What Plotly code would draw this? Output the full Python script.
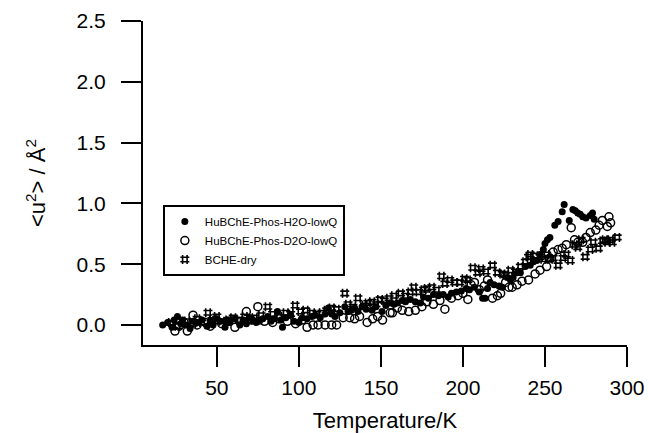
import plotly.graph_objects as go

# HuBChE-Phos-H2O-lowQ (filled circles)
h2o_temp = [17, 20, 22.7, 24, 26, 28, 29, 31, 33.7, 36, 38, 41, 44, 46, 47.7, 50, 52, 55, 56, 58,
            61, 64, 66, 68, 70, 72, 74, 76, 78, 81, 83, 85, 87, 89, 90, 92, 95, 97, 100, 102,
            105, 108, 110, 113, 116, 118, 120, 122, 125, 128, 130, 132, 134, 136, 138.5, 141, 144.6, 147, 150.7, 153,
            155.6, 158, 160, 163, 165, 168, 171, 174, 176, 179, 182, 185, 188, 191, 193, 196, 199, 202, 204, 207,
            210, 212, 213.5, 215, 216.6, 219, 222, 224, 227, 229, 230.6, 233, 235, 238, 241, 243, 245, 247, 249, 250,
            251.5, 253, 256, 258, 260.5, 261.7, 264.8, 267, 268.5, 270, 271.5, 273, 275, 277.6, 279, 280]
h2o_u2 = [0.00, 0.02, -0.02, 0.04, 0.07, 0.01, 0.04, 0.00, -0.03, 0.03, 0.02, 0.04, -0.01, 0.03, 0.00, 0.05, 0.03, -0.02, 0.04, 0.02,
          0.05, 0.00, 0.04, 0.01, 0.06, 0.04, 0.02, 0.03, 0.05, 0.07, 0.03, 0.05, 0.11, 0.04, -0.02, 0.06, 0.08, 0.03, 0.02, 0.06,
          0.05, 0.07, 0.08, 0.06, 0.09, 0.14, 0.09, 0.07, 0.10, 0.15, 0.11, 0.12, 0.14, 0.11, 0.15, 0.13, 0.12, 0.15, 0.11, 0.16,
          0.18, 0.17, 0.18, 0.20, 0.19, 0.21, 0.19, 0.18, 0.23, 0.22, 0.25, 0.24, 0.25, 0.23, 0.26, 0.27, 0.28, 0.30, 0.29, 0.31,
          0.27, 0.22, 0.22, 0.30, 0.35, 0.33, 0.32, 0.31, 0.39, 0.37, 0.39, 0.43, 0.43, 0.48, 0.49, 0.52, 0.53, 0.58, 0.62, 0.67,
          0.70, 0.72, 0.82, 0.85, 0.93, 0.99, 0.86, 0.95, 0.94, 0.92, 0.91, 0.89, 0.88, 0.90, 0.92, 0.87]

# HuBChE-Phos-D2O-lowQ (open circles)
d2o_temp = [24.5, 27, 30, 32, 35.5, 38, 43, 46, 49, 53, 57, 61, 64, 68, 71, 75, 79, 84, 88, 93,
            98, 102, 105, 108.7, 111.7, 116, 120, 123, 127, 131, 134, 137, 141.6, 145, 148, 151, 155.6, 157, 160, 163,
            167, 171, 175, 178, 182, 186, 189, 193, 197, 200, 203, 205, 207, 210, 213, 215, 218, 221, 223, 226,
            228, 230, 233, 236, 240, 244, 247, 251, 253, 255, 258, 260.5, 263, 266, 268, 270, 273, 275, 277.6, 281,
            283, 285, 288, 289, 290]
d2o_u2 = [-0.05, -0.01, 0.02, -0.05, 0.08, 0.00, 0.02, -0.01, 0.04, 0.01, 0.03, -0.02, 0.03, 0.11, 0.04, 0.15, 0.03, 0.02, 0.05, 0.03,
          0.01, 0.04, -0.02, 0.00, 0.00, 0.00, 0.00, 0.00, 0.06, 0.06, 0.05, 0.07, 0.02, 0.05, 0.07, 0.04, 0.10, 0.10, 0.14, 0.12,
          0.11, 0.12, 0.15, 0.19, 0.17, 0.20, 0.13, 0.22, 0.24, 0.26, 0.21, 0.33, 0.35, 0.29, 0.32, 0.37, 0.22, 0.24, 0.26, 0.35,
          0.31, 0.31, 0.33, 0.36, 0.37, 0.42, 0.45, 0.48, 0.55, 0.60, 0.62, 0.63, 0.66, 0.80, 0.70, 0.68, 0.68, 0.72, 0.76, 0.78,
          0.82, 0.86, 0.81, 0.89, 0.84]

# BCHE-dry (hashes)
dry_temp = [22, 26, 29, 31.8, 35.5, 38, 41, 44.6, 47, 50, 53, 57, 60, 64, 67, 70, 73, 77, 81, 84,
            88, 92, 95, 97.7, 101, 104, 108, 111, 114, 117, 120, 123, 128, 130, 133, 136, 140, 142, 144.6, 147,
            149.5, 152, 155, 158, 162, 165, 168, 170, 173, 176, 178, 181, 184, 187, 189, 192, 195, 198, 201, 203,
            206, 209, 211, 214, 218, 221, 224, 226, 229, 232, 235, 238, 240, 241, 244, 247, 249, 251, 253, 255,
            258, 261, 263, 265.4, 268, 270, 272, 274.5, 277.6, 279.4, 282.5, 285, 286.5, 288, 290, 291, 294]
dry_u2 = [0.02, -0.01, 0.03, 0.03, 0.01, 0.05, 0.02, 0.10, 0.04, 0.07, 0.03, 0.04, 0.06, 0.04, 0.07, 0.04, 0.06, 0.08, 0.15, 0.09,
          0.07, 0.10, 0.09, 0.16, 0.11, 0.12, 0.10, 0.09, 0.10, 0.12, 0.14, 0.13, 0.26, 0.17, 0.15, 0.22, 0.16, 0.18, 0.19, 0.17,
          0.21, 0.20, 0.22, 0.24, 0.26, 0.24, 0.27, 0.31, 0.27, 0.29, 0.30, 0.31, 0.29, 0.40, 0.34, 0.37, 0.35, 0.35, 0.38, 0.37,
          0.47, 0.43, 0.46, 0.44, 0.49, 0.43, 0.42, 0.41, 0.45, 0.44, 0.48, 0.52, 0.56, 0.58, 0.57, 0.56, 0.54, 0.58, 0.54, 0.55,
          0.49, 0.55, 0.58, 0.53, 0.66, 0.64, 0.70, 0.56, 0.62, 0.68, 0.63, 0.69, 0.70, 0.68, 0.70, 0.68, 0.72]

FONT = "Liberation Sans, Arial, sans-serif"

fig = go.Figure()
fig.add_trace(go.Scatter(
    x=h2o_temp, y=h2o_u2, mode="markers", name="HuBChE-Phos-H2O-lowQ",
    marker=dict(symbol="circle", size=7, color="black"),
))
fig.add_trace(go.Scatter(
    x=d2o_temp, y=d2o_u2, mode="markers", name="HuBChE-Phos-D2O-lowQ",
    marker=dict(symbol="circle-open", size=8, color="black", line=dict(width=1.5, color="black")),
))
fig.add_trace(go.Scatter(
    x=dry_temp, y=dry_u2, mode="markers", name="BCHE-dry",
    marker=dict(symbol="hash-open", size=9, color="black", line=dict(width=1.6, color="black")),
))

axis_style = dict(
    showline=True, linewidth=2, linecolor="black",
    ticks="outside", ticklen=20, tickwidth=2, tickcolor="black",
    showgrid=False, zeroline=False, automargin=False,
    tickfont=dict(family=FONT, size=21, color="black"),
)

fig.update_xaxes(
    range=[5, 300], tickvals=[50, 100, 150, 200, 250, 300],
    title=dict(text="Temperature/K", font=dict(family=FONT, size=22, color="black"), standoff=15),
    ticklabelstandoff=3,
    **axis_style,
)
fig.update_yaxes(
    range=[-0.165, 2.5], tickvals=[0, 0.5, 1.0, 1.5, 2.0, 2.5], tickformat=".1f",
    title=dict(text="&lt;u<sup>2</sup>&gt; / Å<sup>2</sup>", font=dict(family=FONT, size=22, color="black"), standoff=25),
    ticklabelstandoff=11,
    **axis_style,
)

fig.update_layout(
    width=649, height=433,
    margin=dict(l=143, r=22, t=21, b=88),
    plot_bgcolor="white", paper_bgcolor="white",
    font=dict(family=FONT, color="black"),
    legend=dict(
        x=0.041, y=0.432, xanchor="left", yanchor="top",
        bgcolor="white", bordercolor="black", borderwidth=2,
        font=dict(family=FONT, size=11.5, color="black"),
        itemwidth=30,
    ),
)

# drop the browser's default 8px body margin so the figure fills the window
fig.write_html(
    "out.html",
    config={"displayModeBar": False},
    post_script="document.body.style.margin='0';document.body.style.overflow='hidden';",
)
